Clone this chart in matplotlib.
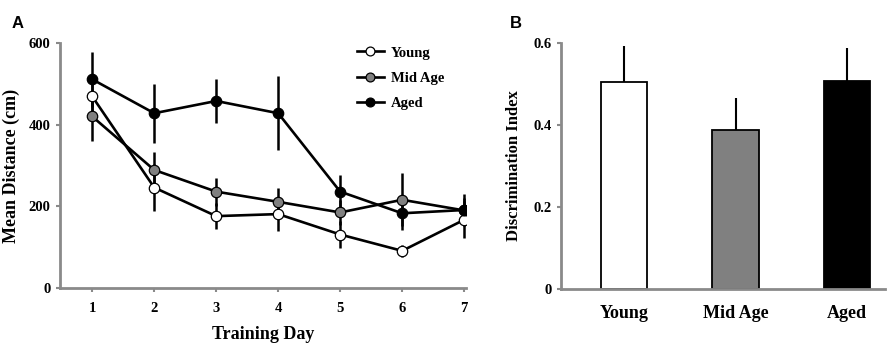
import matplotlib
matplotlib.use("Agg")
import matplotlib.pyplot as plt
import numpy as np

# ---- Data ----
days = [1, 2, 3, 4, 5, 6, 7]
young_mean = [469, 246, 176, 181, 131, 91, 167]
young_err = [45, 57, 32, 41, 33, 15, 45]
mid_mean = [420, 289, 236, 211, 185, 216, 190]
mid_err = [60, 45, 34, 35, 30, 65, 30]
aged_mean = [511, 428, 458, 428, 236, 183, 191]
aged_err = [68, 72, 55, 90, 41, 41, 39]

groups = ["Young", "Mid Age", "Aged"]
di_mean = [0.506, 0.388, 0.509]
di_err = [0.088, 0.079, 0.080]
bar_colors = ["white", "#808080", "black"]

serif = ["Liberation Serif", "DejaVu Serif"]
sans = ["Liberation Sans", "DejaVu Sans"]
gray = "#8a8a8a"

fig = plt.figure(figsize=(8.92, 3.51), dpi=100)

# ---- Panel A ----
axA = fig.add_axes([0.0673, 0.1795, 0.4551, 0.698])
series = [
    ("Young", young_mean, young_err, "white"),
    ("Mid Age", mid_mean, mid_err, "#808080"),
    ("Aged", aged_mean, aged_err, "black"),
]
for name, m, e, fc in series:
    axA.errorbar(days, m, yerr=e, fmt="none", ecolor="black", elinewidth=1.8, capsize=0, zorder=2)
for name, m, e, fc in series:
    axA.plot(days, m, "-o", color="black", lw=1.9, markersize=7.5,
             markerfacecolor=fc, markeredgecolor="black", markeredgewidth=0.9,
             label=name, zorder=3)

axA.set_xlim(0.48, 7.03)
axA.set_ylim(0, 600)
axA.set_xticks(days)
axA.set_yticks([0, 200, 400, 600])
for s in ["top", "right"]:
    axA.spines[s].set_visible(False)
for s in ["left", "bottom"]:
    axA.spines[s].set_color(gray)
    axA.spines[s].set_linewidth(2)
axA.tick_params(axis="both", colors=gray, length=3, width=1.5, direction="out")
axA.tick_params(axis="x", pad=7)
axA.tick_params(axis="y", pad=4)
for lab in axA.get_xticklabels() + axA.get_yticklabels():
    lab.set_fontfamily(serif)
    lab.set_fontweight("bold")
    lab.set_fontsize(10.5)
    lab.set_color("black")
axA.set_xlabel("Training Day", fontfamily=serif, fontweight="bold", fontsize=13, labelpad=8)
axA.set_ylabel("Mean Distance (cm)", fontfamily=serif, fontweight="bold", fontsize=13, labelpad=6)
leg = axA.legend(loc="upper left", bbox_to_anchor=(0.70, 1.04), frameon=False,
                 prop={"family": serif, "weight": "bold", "size": 10.5},
                 handlelength=1.8, handletextpad=0.5, labelspacing=0.82, markerscale=0.85)
fig.text(0.0135, 0.92, "A", fontfamily=sans, fontweight="bold", fontsize=12)

# ---- Panel B ----
axB = fig.add_axes([0.629, 0.1775, 0.363, 0.6991])
xpos = np.arange(len(groups))
axB.bar(xpos, di_mean, width=0.42, color=bar_colors, edgecolor="black", linewidth=1.3, zorder=2)
axB.errorbar(xpos, di_mean, yerr=[np.zeros(len(groups)), di_err], fmt="none",
             ecolor="black", elinewidth=1.5, capsize=0, zorder=1)
axB.set_xlim(-0.565, 2.34)
axB.set_ylim(0, 0.6)
axB.set_xticks(xpos)
axB.set_xticklabels(groups)
axB.set_yticks([0, 0.2, 0.4, 0.6])
axB.set_yticklabels(["0", "0.2", "0.4", "0.6"])
for s in ["top", "right"]:
    axB.spines[s].set_visible(False)
for s in ["left", "bottom"]:
    axB.spines[s].set_color(gray)
    axB.spines[s].set_linewidth(2)
axB.tick_params(axis="y", colors=gray, length=3, width=1.5, direction="out", pad=4)
axB.tick_params(axis="x", length=0, pad=12)
for lab in axB.get_yticklabels():
    lab.set_fontfamily(serif)
    lab.set_fontweight("bold")
    lab.set_fontsize(10.5)
    lab.set_color("black")
for lab in axB.get_xticklabels():
    lab.set_fontfamily(serif)
    lab.set_fontweight("bold")
    lab.set_fontsize(13)
    lab.set_color("black")
axB.set_ylabel("Discrimination Index", fontfamily=serif, fontweight="bold", fontsize=12, labelpad=8)
fig.text(0.572, 0.92, "B", fontfamily=sans, fontweight="bold", fontsize=12)

fig.savefig("out.png", dpi=100)
